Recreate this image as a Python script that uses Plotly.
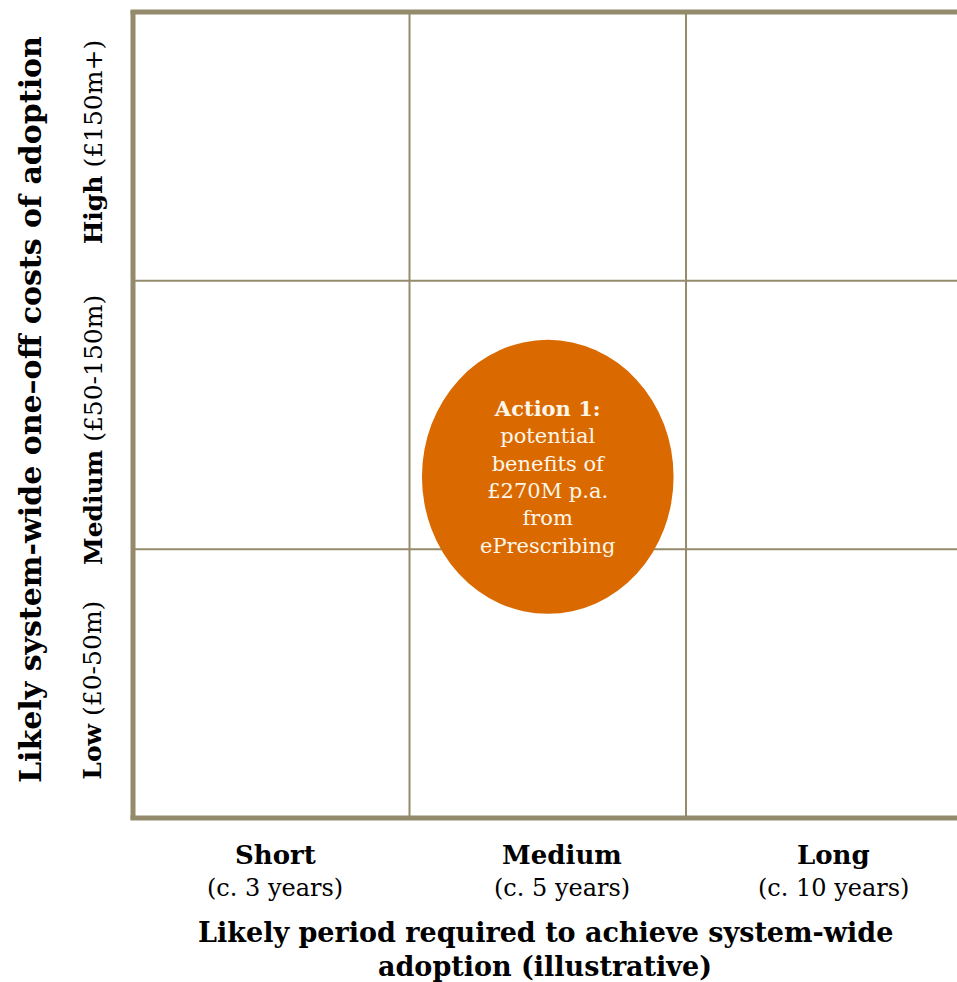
import plotly.graph_objects as go

# Data
x_cats = ["Short", "Medium", "Long"]
x_subs = ["(c. 3 years)", "(c. 5 years)", "(c. 10 years)"]
y_cats = ["Low", "Medium", "High"]
y_subs = ["(£0-50m)", "(£50-150m)", "(£150m+)"]
bubble_x = [1.50]
bubble_y = [1.27]
bubble_w = [0.91]
bubble_h = [1.02]
bubble_title = ["Action 1:"]
bubble_text = ["potential<br>benefits of<br>£270M p.a.<br>from<br>ePrescribing"]
x_title_lines = ["Likely period required to achieve system-wide", "adoption (illustrative)"]
y_title = "Likely system-wide one–off costs of adoption"

# style offsets (pixels) for label placement
x_label_shift = [4, 14, 9]
y_label_shift = [-7, -15, 4]

FONT = "Georgia, 'DejaVu Serif', serif"
LINE = "#948B6C"
ORANGE = "#DA6A00"

fig = go.Figure()
fig.add_trace(go.Scatter(x=[0, 3], y=[0, 3], mode="markers", marker=dict(opacity=0),
                         hoverinfo="skip", showlegend=False))

shapes = []
for v in [1, 2]:
    shapes.append(dict(type="line", xref="x", yref="paper", x0=v, x1=v, y0=0, y1=1,
                       line=dict(color=LINE, width=2), layer="below"))
    shapes.append(dict(type="line", xref="paper", yref="y", x0=0, x1=1, y0=v, y1=v,
                       line=dict(color=LINE, width=2), layer="below"))
for bx, by, bw, bh in zip(bubble_x, bubble_y, bubble_w, bubble_h):
    shapes.append(dict(type="circle", xref="x", yref="y", x0=bx - bw / 2, x1=bx + bw / 2,
                       y0=by - bh / 2, y1=by + bh / 2, fillcolor=ORANGE,
                       line=dict(width=0), layer="above"))
shapes.append(dict(type="line", xref="paper", yref="paper", x0=0, x1=0, y0=-0.002, y1=1.002,
                   line=dict(color=LINE, width=5)))
shapes.append(dict(type="line", xref="paper", yref="paper", x0=-0.003, x1=1, y0=0, y1=0,
                   line=dict(color=LINE, width=5)))
shapes.append(dict(type="line", xref="paper", yref="paper", x0=-0.003, x1=1, y0=1, y1=1,
                   line=dict(color=LINE, width=5)))

ann = []
for i, (c, s) in enumerate(zip(x_cats, x_subs)):
    ann.append(dict(x=i + 0.5, y=0, xref="x", yref="paper", yshift=-37, xshift=x_label_shift[i],
                    text=f"<b>{c}</b>", showarrow=False, yanchor="middle",
                    font=dict(family=FONT, size=26, color="#000")))
    ann.append(dict(x=i + 0.5, y=0, xref="x", yref="paper", yshift=-70, xshift=x_label_shift[i],
                    text=s, showarrow=False, yanchor="middle",
                    font=dict(family=FONT, size=24, color="#000")))
for i, (c, s) in enumerate(zip(y_cats, y_subs)):
    ann.append(dict(x=0, y=i + 0.5, xref="paper", yref="y", xshift=-40, yshift=y_label_shift[i],
                    xanchor="center", text=f"<b>{c}</b> {s}", showarrow=False, textangle=-90,
                    font=dict(family=FONT, size=25, color="#000")))
for bx, by, t1, t2 in zip(bubble_x, bubble_y, bubble_title, bubble_text):
    ann.append(dict(x=bx, y=by, xref="x", yref="y", text=f"<b>{t1}</b><br>{t2}",
                    showarrow=False, align="center",
                    font=dict(family=FONT, size=21, color="#FFF6EA")))
for j, line in enumerate(x_title_lines):
    ann.append(dict(x=0.5, y=0, xref="paper", yref="paper", yshift=-114 - 34 * j,
                    text=f"<b>{line}</b>", showarrow=False, yanchor="middle",
                    font=dict(family=FONT, size=27, color="#000")))
ann.append(dict(x=0, y=0.5, xref="paper", yref="paper", xshift=-103, yshift=5, xanchor="center",
                text=f"<b>{y_title}</b>", showarrow=False, textangle=-90,
                font=dict(family=FONT, size=30, color="#000")))

fig.update_layout(
    width=957, height=982,
    margin=dict(l=133, r=0, t=12, b=164),
    plot_bgcolor="white", paper_bgcolor="white",
    xaxis=dict(range=[0, 2.98], visible=False, fixedrange=True),
    yaxis=dict(range=[0, 3], visible=False, fixedrange=True),
    shapes=shapes, annotations=ann, showlegend=False,
)
fig.write_html("out.html", config={"displayModeBar": False},
               post_script="document.body.style.margin='0';document.body.style.overflow='hidden';")
